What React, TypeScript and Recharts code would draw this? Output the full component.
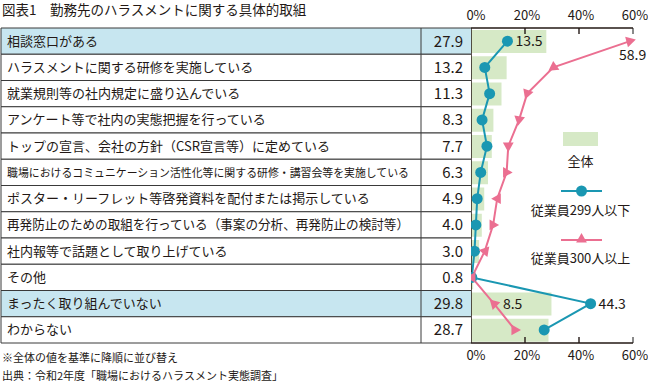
import React from 'react';
import { ComposedChart, Bar, Line, XAxis, YAxis, Legend, LabelList, ReferenceLine } from 'recharts';

const categories = [
  '相談窓口がある',
  'ハラスメントに関する研修を実施している',
  '就業規則等の社内規定に盛り込んでいる',
  'アンケート等で社内の実態把握を行っている',
  'トップの宣言、会社の方針（CSR宣言等）に定めている',
  '職場におけるコミュニケーション活性化等に関する研修・講習会等を実施している',
  'ポスター・リーフレット等啓発資料を配付または掲示している',
  '再発防止のための取組を行っている（事案の分析、再発防止の検討等）',
  '社内報等で話題として取り上げている',
  'その他',
  'まったく取り組んでいない',
  'わからない',
];
const overall = [27.9, 13.2, 11.3, 8.3, 7.7, 6.3, 4.9, 4.0, 3.0, 0.8, 29.8, 28.7];
const under299 = [13.5, 5.1, 6.9, 4.1, 5.9, 3.6, 2.3, 1.8, 1.3, 0.3, 44.3, 27.1];
const over300 = [58.9, 30.5, 20.8, 17.8, 13.8, 13.2, 9.7, 8.2, 5.1, 0.3, 8.5, 16.3];
const xTicks = [0, 20, 40, 60];
const highlighted = ['相談窓口がある', 'まったく取り組んでいない'];
const labeledPoints = [0, 10];

const data = categories.map((name, i) => ({
  name,
  overall: overall[i],
  under299: under299[i],
  over300: over300[i],
}));

const INK = '#231815';
const GREEN = '#d6e9c6';
const TEAL = '#1a97b2';
const PINK = '#eb6f91';
const BLUE = '#c7e6f0';
const ROW_H = 26.25;
// marker rotation for the triangles, degrees clockwise
const triRot = [75, 235, 200, 190, 180, 90, 270, 90, 280, 270, 315, 90];

const TableRow = (props: any) => {
  const { y, payload, index } = props;
  const top = y - ROW_H / 2;
  const label: string = payload.value;
  const long = label.length >= 30;
  const veryLong = label.length >= 35;
  return (
    <g>
      <rect x={1} y={top} width={470} height={ROW_H} fill={highlighted.includes(label) ? BLUE : '#fff'} />
      <line x1={1} x2={471} y1={top} y2={top} stroke="#3a3a3a" />
      <line x1={1} x2={471} y1={top + ROW_H} y2={top + ROW_H} stroke="#3a3a3a" />
      <line x1={1} x2={1} y1={top} y2={top + ROW_H} stroke="#3a3a3a" />
      <line x1={421} x2={421} y1={top} y2={top + ROW_H} stroke="#3a3a3a" />
      <text
        x={7}
        y={y + 4.5}
        fontSize={veryLong ? 11.4 : 13}
        fill={INK}
        textLength={long ? 402 : undefined}
        lengthAdjust={long ? 'spacingAndGlyphs' : undefined}
      >
        {label}
      </text>
      <text x={463} y={y + 5.5} fontSize={15} fill={INK} textAnchor="end">
        {overall[index].toFixed(1)}
      </text>
    </g>
  );
};

const PctTick = (props: any) => {
  const { x, y, payload, side } = props;
  const shift = payload.value === 0 ? 5 : 2;
  return (
    <text x={x + shift} y={side === 'top' ? y - 2 : y + 11} fontSize={13} fill={INK} textAnchor="middle">
      {payload.value}%
    </text>
  );
};

// short inward tick marks at both ends of a reference line
const TickMarks = (props: any) => {
  const { x1, y1, y2, value } = props;
  const top = Math.min(y1, y2);
  const bottom = Math.max(y1, y2);
  const colour = value === 60 ? '#8a8a8a' : INK;
  const w = value === 60 ? 2 : 1.4;
  return (
    <g>
      <line x1={x1} x2={x1} y1={top} y2={top + 6} stroke={colour} strokeWidth={w} />
      <line x1={x1} x2={x1} y1={bottom} y2={bottom - 6} stroke={colour} strokeWidth={w} />
    </g>
  );
};

const Triangle = ({ cx, cy, rot, size = 6 }: any) => (
  <polygon
    points={`${cx},${cy - size} ${cx + size * 0.9},${cy + size * 0.6} ${cx - size * 0.9},${cy + size * 0.6}`}
    fill={PINK}
    transform={`rotate(${rot} ${cx} ${cy})`}
  />
);

const renderCircle = (props: any) => {
  const { cx, cy, index } = props;
  return <circle key={`c-${index}`} cx={cx} cy={cy} r={5.5} fill={TEAL} />;
};

const renderTriangle = (props: any) => {
  const { cx, cy, index } = props;
  return <Triangle key={`t-${index}`} cx={cx} cy={cy} rot={triRot[index]} />;
};

const smallLabel = (props: any) => {
  const { x, y, value, index } = props;
  if (!labeledPoints.includes(index)) return null;
  return (
    <text x={x + 8} y={y + 5} fontSize={14} fill={INK}>
      {value}
    </text>
  );
};

const largeLabel = (props: any) => {
  const { x, y, value, index } = props;
  if (!labeledPoints.includes(index)) return null;
  if (index === 0) {
    return (
      <text x={x - 11} y={y + 19} fontSize={14} fill={INK}>
        {value}
      </text>
    );
  }
  return (
    <text x={x + 9} y={y + 5} fontSize={14} fill={INK}>
      {value}
    </text>
  );
};

const renderLegend = () => (
  <svg width={110} height={145}>
    <rect x={36} y={6} width={35} height={14} fill={GREEN} />
    <text x={53.5} y={40} fontSize={13} fill={INK} textAnchor="middle">全体</text>
    <line x1={34} x2={75} y1={65} y2={65} stroke={TEAL} strokeWidth={2} />
    <circle cx={54.5} cy={65} r={5.5} fill={TEAL} />
    <text x={53.5} y={89} fontSize={13} fill={INK} textAnchor="middle">従業員299人以下</text>
    <line x1={34} x2={75} y1={114} y2={114} stroke={PINK} strokeWidth={2} />
    <Triangle cx={54.5} cy={113} rot={0} />
    <text x={53.5} y={137} fontSize={13} fill={INK} textAnchor="middle">従業員300人以上</text>
  </svg>
);

export default function App() {
  return (
    <div
      style={{
        position: 'absolute',
        left: 0,
        top: 0,
        width: 648,
        height: 384,
        background: '#fff',
        fontFamily: '"Noto Sans CJK JP", "Noto Sans", sans-serif',
        color: INK,
      }}
    >
      <ComposedChart
        width={648}
        height={384}
        data={data}
        layout="vertical"
        margin={{ top: 8, right: 15, bottom: 21, left: 0 }}
      >
        <Legend
          layout="vertical"
          align="center"
          verticalAlign="middle"
          content={renderLegend}
          wrapperStyle={{ left: 527, top: 126, width: 110, height: 145 }}
        />
        <Bar xAxisId="top" dataKey="overall" name="全体" fill={GREEN} barSize={23} isAnimationActive={false} />
        <Line
          xAxisId="bottom"
          dataKey="under299"
          name="従業員299人以下"
          type="linear"
          stroke={TEAL}
          strokeWidth={2}
          dot={renderCircle}
          activeDot={false}
          isAnimationActive={false}
        >
          <LabelList dataKey="under299" content={smallLabel} />
        </Line>
        <Line
          xAxisId="bottom"
          dataKey="over300"
          name="従業員300人以上"
          type="linear"
          stroke={PINK}
          strokeWidth={2}
          dot={renderTriangle}
          activeDot={false}
          isAnimationActive={false}
        >
          <LabelList dataKey="over300" content={largeLabel} />
        </Line>
        {xTicks
          .filter((t) => t > 0)
          .map((t) => (
            <ReferenceLine
              key={`tick-${t}`}
              xAxisId="bottom"
              x={t}
              ifOverflow="visible"
              shape={(p: any) => <TickMarks {...p} value={t} />}
            />
          ))}
        <YAxis
          type="category"
          dataKey="name"
          width={471}
          interval={0}
          tickLine={false}
          axisLine={{ stroke: INK, strokeWidth: 1.5 }}
          tick={<TableRow />}
        />
        <XAxis
          xAxisId="top"
          orientation="top"
          type="number"
          domain={[0, 60]}
          ticks={xTicks}
          height={20}
          tickSize={6}
          tickMargin={0}
          axisLine={{ stroke: INK, strokeWidth: 1.5 }}
          tickLine={false}
          tick={<PctTick side="top" />}
        />
        <XAxis
          xAxisId="bottom"
          orientation="bottom"
          type="number"
          domain={[0, 60]}
          ticks={xTicks}
          height={20}
          tickSize={6}
          tickMargin={0}
          axisLine={{ stroke: INK, strokeWidth: 1.5 }}
          tickLine={false}
          tick={<PctTick side="bottom" />}
        />
      </ComposedChart>
      <div style={{ position: 'absolute', left: 2, top: 0, fontSize: 13.5, lineHeight: '18px', whiteSpace: 'pre' }}>
        図表1　勤務先のハラスメントに関する具体的取組
      </div>
      <div style={{ position: 'absolute', left: 2, top: 348, fontSize: 11, lineHeight: '18px' }}>
        <div>※全体の値を基準に降順に並び替え</div>
        <div>出典：令和2年度「職場におけるハラスメント実態調査」</div>
      </div>
    </div>
  );
}
